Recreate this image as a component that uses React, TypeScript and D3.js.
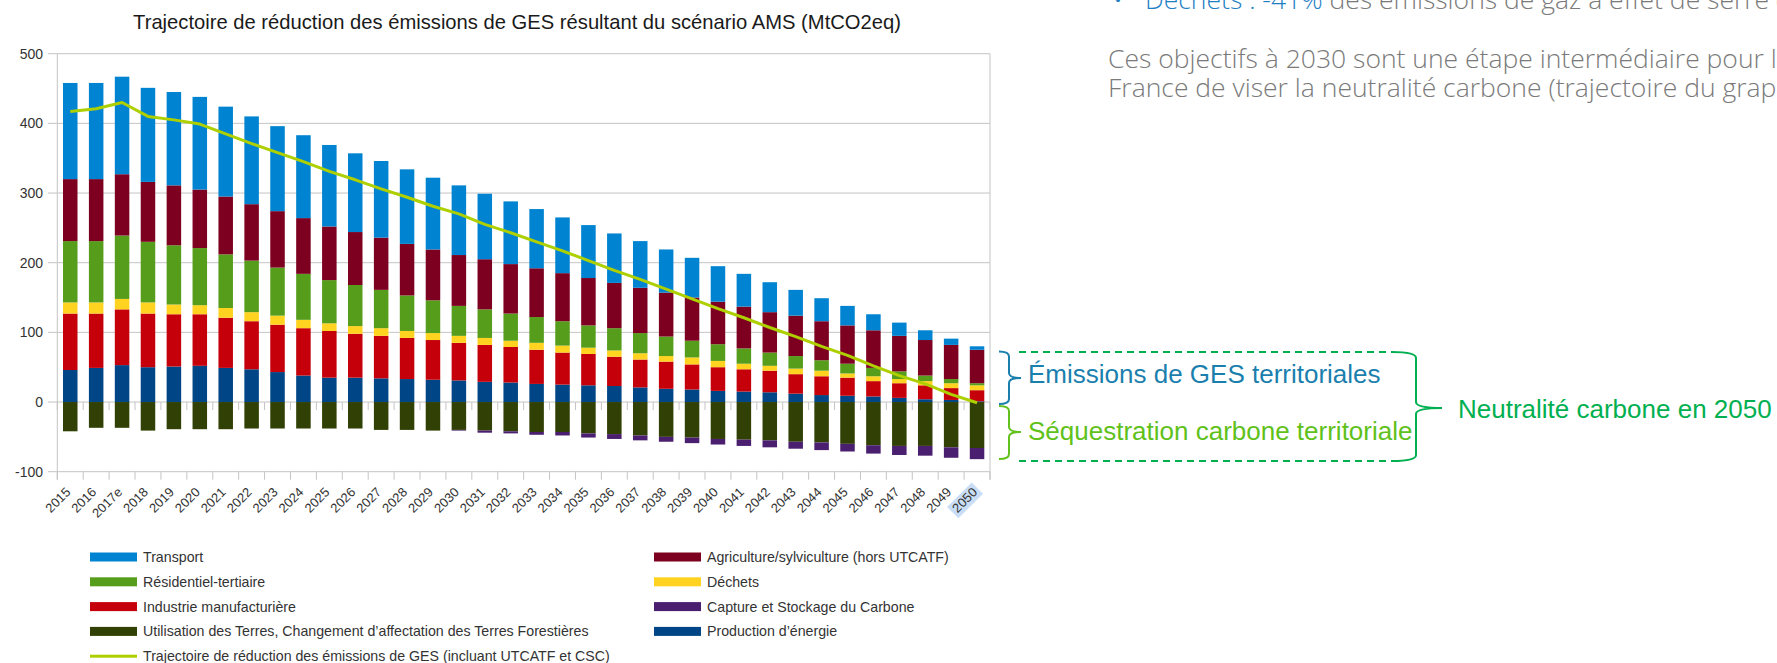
import React from "react";
import * as d3 from "d3";

// ---------- DATA ----------
const years = [
  "2015", "2016", "2017e", "2018", "2019", "2020", "2021", "2022", "2023", "2024",
  "2025", "2026", "2027", "2028", "2029", "2030", "2031", "2032", "2033", "2034",
  "2035", "2036", "2037", "2038", "2039", "2040", "2041", "2042", "2043", "2044",
  "2045", "2046", "2047", "2048", "2049", "2050",
];
const energy = [46, 49, 53, 50, 51, 52, 49, 47, 43, 38, 35, 35, 34, 33, 32, 31, 29, 28, 26, 25, 24, 23, 21, 19, 18, 16, 15, 14, 12, 10, 9, 8, 6, 4, 3, 1];
const industry = [81, 78, 80, 77, 75, 74, 72, 69, 68, 68, 67, 63, 61, 59, 57, 54, 53, 51, 49, 46, 45, 42, 40, 39, 36, 34, 32, 31, 28, 27, 26, 22, 21, 20, 17, 16];
const waste = [16, 16, 15, 16, 14, 13, 14, 13, 13, 12, 11, 11, 11, 10, 10, 10, 10, 9, 10, 10, 9, 9, 9, 8, 10, 9, 8, 7, 8, 8, 6, 7, 6, 6, 7, 7];
const residential = [88, 88, 91, 87, 85, 82, 77, 74, 69, 66, 62, 59, 55, 51, 47, 43, 41, 39, 37, 35, 32, 32, 29, 28, 24, 24, 22, 19, 18, 15, 14, 12, 11, 8, 6, 3];
const agriculture = [89, 89, 88, 86, 86, 84, 83, 81, 81, 80, 77, 76, 75, 74, 73, 73, 72, 71, 70, 69, 68, 65, 65, 63, 62, 61, 60, 58, 58, 56, 55, 54, 51, 51, 49, 48];
const transport = [138, 138, 140, 135, 134, 133, 129, 126, 122, 119, 117, 113, 110, 107, 103, 100, 94, 90, 85, 80, 76, 71, 67, 62, 57, 51, 47, 43, 37, 33, 28, 23, 19, 14, 9, 5];
const lulucf = [-42, -37, -37, -41, -39, -39, -39, -38, -38, -38, -38, -38, -40, -40, -41, -40, -41, -42, -43, -43, -45, -46, -48, -50, -51, -53, -54, -55, -57, -58, -60, -62, -63, -63, -65, -66];
const ccs = [0, 0, 0, 0, 0, 0, 0, 0, 0, 0, 0, 0, 0, 0, 0, -1, -3, -3, -4, -5, -6, -7, -7, -7, -8, -8, -9, -10, -10, -11, -11, -12, -13, -14, -15, -16];
const trajectory = [417, 421, 430, 410, 405, 399, 385, 371, 358, 345, 331, 319, 306, 294, 281, 270, 255, 243, 230, 217, 203, 189, 176, 162, 148, 134, 121, 107, 94, 80, 67, 52, 38, 26, 11, -1];
const yTicks = [-100, 0, 100, 200, 300, 400, 500];

const seriesKeys = ["energy", "industry", "waste", "residential", "agriculture", "transport", "lulucf", "ccs"];
const seriesValues: Record<string, number[]> = { energy, industry, waste, residential, agriculture, transport, lulucf, ccs };
const seriesColors: Record<string, string> = {
  energy: "#004586",
  industry: "#c5000b",
  waste: "#ffd320",
  residential: "#579d1c",
  agriculture: "#7e0021",
  transport: "#0084d1",
  lulucf: "#314004",
  ccs: "#4b1f6f",
};
const trajColor = "#aecf00";

const legendCol1 = [
  { label: "Transport", key: "transport" },
  { label: "Résidentiel-tertiaire", key: "residential" },
  { label: "Industrie manufacturière", key: "industry" },
  { label: "Utilisation des Terres, Changement d’affectation des Terres Forestières", key: "lulucf" },
  { label: "Trajectoire de réduction des émissions de GES (incluant UTCATF et CSC)", key: "traj" },
];
const legendCol2 = [
  { label: "Agriculture/sylviculture (hors UTCATF)", key: "agriculture" },
  { label: "Déchets", key: "waste" },
  { label: "Capture et Stockage du Carbone", key: "ccs" },
  { label: "Production d’énergie", key: "energy" },
];

const FONT = "'Liberation Sans', Arial, sans-serif";
const FONT2 = "'Open Sans', 'Noto Sans', sans-serif";

export default function App() {
  const W = 1777, H = 663;
  const x = d3.scaleBand<string>().domain(years).range([57.3, 990]).paddingInner(0.44).paddingOuter(0.22);
  const y = d3.scaleLinear().domain([-100, 500]).range([471.7, 53.7]);
  const step = x.step();
  const bw = x.bandwidth();
  const [x0, x1] = x.range();

  const rows = years.map((yr, i) => {
    const r: any = { year: yr };
    seriesKeys.forEach((k) => (r[k] = seriesValues[k][i]));
    return r;
  });
  const stacked = d3.stack<any>().keys(seriesKeys).offset(d3.stackOffsetDiverging)(rows);

  const line = d3
    .line<number>()
    .x((_, i) => (x(years[i]) as number) + bw / 2)
    .y((d) => y(d));

  const boundaries = d3.range(years.length + 1).map((i) => x0 + i * step);
  const yTop = y(500), yBot = y(-100);

  const bracePath = (xl: number, xv: number, xt: number, y1: number, ym: number, y2: number, r = 5) =>
    `M${xl},${y1} Q${xv},${y1} ${xv},${y1 + r} L${xv},${ym - r} Q${xv},${ym} ${xt},${ym} Q${xv},${ym} ${xv},${ym + r} L${xv},${y2 - r} Q${xv},${y2} ${xl},${y2}`;

  return (
    <div>
      <style>{`html,body{margin:0;padding:0;overflow:hidden;background:#fff}`}</style>
      <svg width={W} height={H} style={{ position: "absolute", left: 0, top: 0, display: "block" }} fontFamily={FONT}>
        <rect width={W} height={H} fill="#fff" />

        {/* Title */}
        <text x={517} y={29} textAnchor="middle" fontSize={20.2} fill="#1a1a1a">
          Trajectoire de réduction des émissions de GES résultant du scénario AMS (MtCO2eq)
        </text>

        {/* Gridlines */}
        {yTicks.map((t) => (
          <g key={t}>
            <line x1={x0} x2={x1} y1={y(t)} y2={y(t)} stroke="#c4c4c4" strokeWidth={1} />
            <line x1={48} x2={x0} y1={y(t)} y2={y(t)} stroke="#c4c4c4" strokeWidth={1} />
            <text x={43} y={y(t)} dy="0.35em" textAnchor="end" fontSize={14} fill="#333">
              {t}
            </text>
          </g>
        ))}
        {/* Frame verticals */}
        <line x1={x0} x2={x0} y1={yTop} y2={yBot + 8} stroke="#c4c4c4" />
        <line x1={x1} x2={x1} y1={yTop} y2={yBot + 8} stroke="#c4c4c4" />
        {/* Category ticks */}
        {boundaries.map((bx, i) => (
          <g key={i}>
            <line x1={bx} x2={bx} y1={y(0)} y2={y(0) + 8} stroke="#c4c4c4" />
            <line x1={bx} x2={bx} y1={yBot} y2={yBot + 8} stroke="#c4c4c4" />
          </g>
        ))}

        {/* Bars */}
        {stacked.map((s) => (
          <g key={s.key} fill={seriesColors[s.key]}>
            {s.map((d, i) => {
              const a = y(d[0]), b = y(d[1]);
              const h = Math.abs(a - b);
              if (h < 0.01) return null;
              return <rect key={i} x={x(years[i])} y={Math.min(a, b)} width={bw} height={h} />;
            })}
          </g>
        ))}

        {/* Trajectory */}
        <path d={line(trajectory) || ""} fill="none" stroke={trajColor} strokeWidth={3} strokeLinejoin="round" />

        {/* X labels */}
        {years.map((yr) => {
          const cx = (x(yr) as number) + bw / 2 + 1;
          const isLast = yr === "2050";
          const len = yr.length * 7.2;
          return (
            <g key={yr} transform={`translate(${cx},${493}) rotate(-45)`}>
              {isLast && <rect x={-len - 3} y={-12} width={len + 6} height={16} fill="#c9def6" />}
              <text x={0} y={0} textAnchor="end" fontSize={13} fill="#333">
                {yr}
              </text>
            </g>
          );
        })}

        {/* Legend */}
        {[legendCol1, legendCol2].map((col, ci) =>
          col.map((item, ri) => {
            const sx = ci === 0 ? 90 : 654;
            const cy = 557 + ri * 24.8;
            return (
              <g key={item.key}>
                {item.key === "traj" ? (
                  <rect x={sx} y={cy - 1.5} width={47} height={3} fill={trajColor} />
                ) : (
                  <rect x={sx} y={cy - 4.5} width={47} height={9} fill={seriesColors[item.key]} />
                )}
                <text x={sx + 53} y={cy} dy="0.35em" fontSize={14.2} fill="#333">
                  {item.label}
                </text>
              </g>
            );
          })
        )}

        {/* Annotations */}
        <path d={bracePath(999, 1009, 1021, 351.5, 378, 404)} fill="none" stroke="#1b7fae" strokeWidth={2} />
        <path d={bracePath(999, 1009, 1021, 406, 432, 459)} fill="none" stroke="#62c11c" strokeWidth={2} />
        <line x1={1019} x2={1392} y1={352} y2={352} stroke="#00b050" strokeWidth={2} strokeDasharray="7 5" />
        <line x1={1019} x2={1392} y1={461} y2={461} stroke="#00b050" strokeWidth={2} strokeDasharray="7 5" />
        <path d={bracePath(1392, 1416, 1442, 352, 408, 461, 6)} fill="none" stroke="#00b050" strokeWidth={2} />
        <text x={1028} y={383} fontSize={26} fill="#1b7fae">Émissions de GES territoriales</text>
        <text x={1028} y={440} fontSize={26} fill="#60c11a">Séquestration carbone territoriale</text>
        <text x={1458} y={418} fontSize={26} fill="#00b050">Neutralité carbone en 2050</text>

        {/* Surrounding page text */}
        <g fontFamily={FONT2} fontSize={26.5} fontWeight={300}>
          <text x={1113} y={9} fill="#1f7fc4">•</text>
          <text x={1145} y={9} fill="#7a7a7a">
            <tspan fill="#1f7fc4">Déchets : -41%</tspan>
            <tspan> des émissions de gaz à effet de serre (-</tspan>
          </text>
          <text x={1108} y={68} fill="#7a7a7a">Ces objectifs à 2030 sont une étape intermédiaire pour la</text>
          <text x={1108} y={97} fill="#7a7a7a">France de viser la neutralité carbone (trajectoire du graphique</text>
        </g>
      </svg>
    </div>
  );
}
